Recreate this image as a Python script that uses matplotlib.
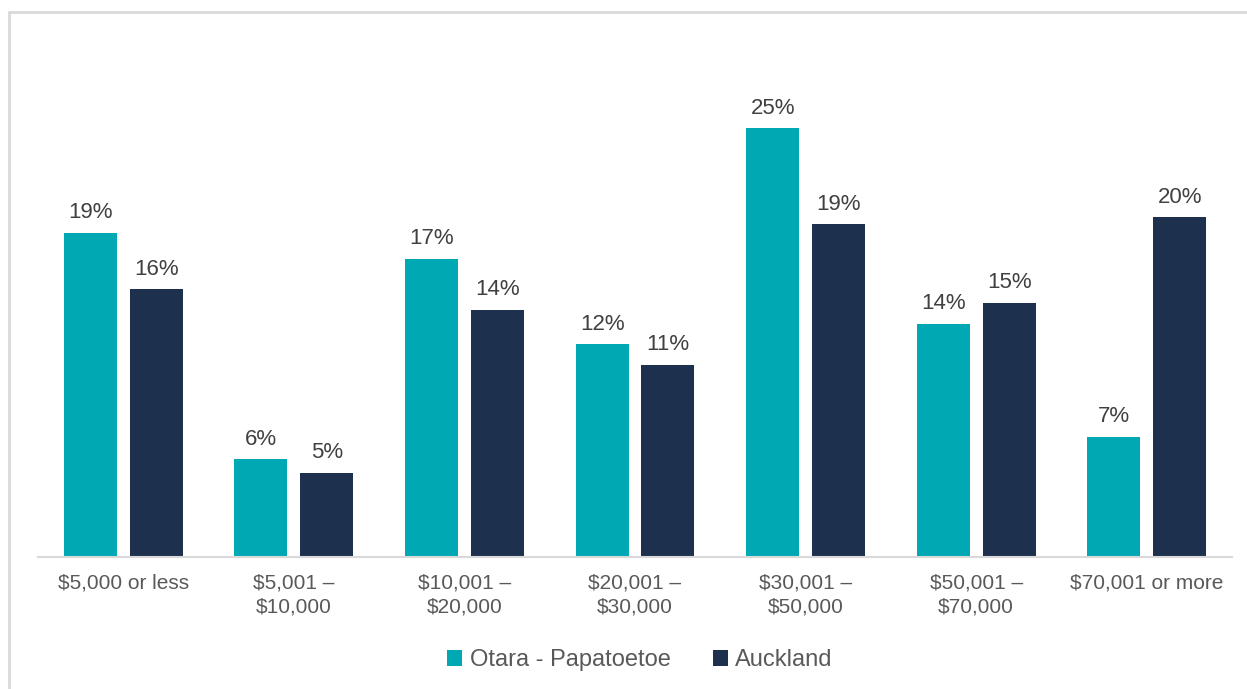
import numpy as np
import matplotlib.pyplot as plt
from matplotlib.patches import Rectangle

# data ==========================================
categories = ['$5,000 or less', '$5,001 –\n$10,000', '$10,001 –\n$20,000', '$20,001 –\n$30,000',
              '$30,001 –\n$50,000', '$50,001 –\n$70,000', '$70,001 or more']
otara = [18.9, 5.7, 17.4, 12.4, 25.0, 13.6, 7.0]
auckland = [15.6, 4.9, 14.4, 11.2, 19.4, 14.8, 19.8]
series_names = ['Otara - Papatoetoe', 'Auckland']

teal = '#00A8B3'
navy = '#1D314F'
grey_text = '#595959'

plt.rcParams['font.family'] = ['Liberation Sans', 'DejaVu Sans']

fig = plt.figure(figsize=(12.47, 6.89), dpi=100)
ax = fig.add_axes([38 / 1247, 132 / 689, 1194 / 1247, 463 / 689])

x = np.arange(len(categories))
w = 0.31
off = 0.193
b1 = ax.bar(x - off, otara, w, color=teal, label=series_names[0])
b2 = ax.bar(x + off, auckland, w, color=navy, label=series_names[1])

for bars in (b1, b2):
    for rect in bars:
        h = rect.get_height()
        ax.annotate(f'{round(h):.0f}%', (rect.get_x() + rect.get_width() / 2, h),
                    xytext=(0, 7), textcoords='offset points', ha='center', va='bottom',
                    fontsize=16, color='#404040')

ax.set_xlim(-0.5, len(categories) - 0.5)
ax.set_ylim(0, 27)
ax.set_yticks([])
ax.set_xticks(x)
ax.set_xticklabels(categories, fontsize=15, color=grey_text, linespacing=1.35)
ax.tick_params(axis='x', length=0, pad=12)
for s in ['top', 'right', 'left']:
    ax.spines[s].set_visible(False)
ax.spines['bottom'].set_color('#D9D9D9')
ax.spines['bottom'].set_linewidth(1.5)

leg = fig.legend(handles=[b1, b2], loc='center', bbox_to_anchor=(640 / 1247, 1 - 660 / 689),
                 ncol=2, frameon=False, fontsize=17, handlelength=0.65, handleheight=0.65,
                 handletextpad=0.3, columnspacing=1.8)
for t in leg.get_texts():
    t.set_color(grey_text)

# outer frame
fig.patches.append(Rectangle((9 / 1247, -0.05), 1.1, 1 - 12 / 689 + 0.05, transform=fig.transFigure,
                             fill=False, edgecolor='#D9D9D9', linewidth=2))

fig.savefig('out.png', dpi=100)
